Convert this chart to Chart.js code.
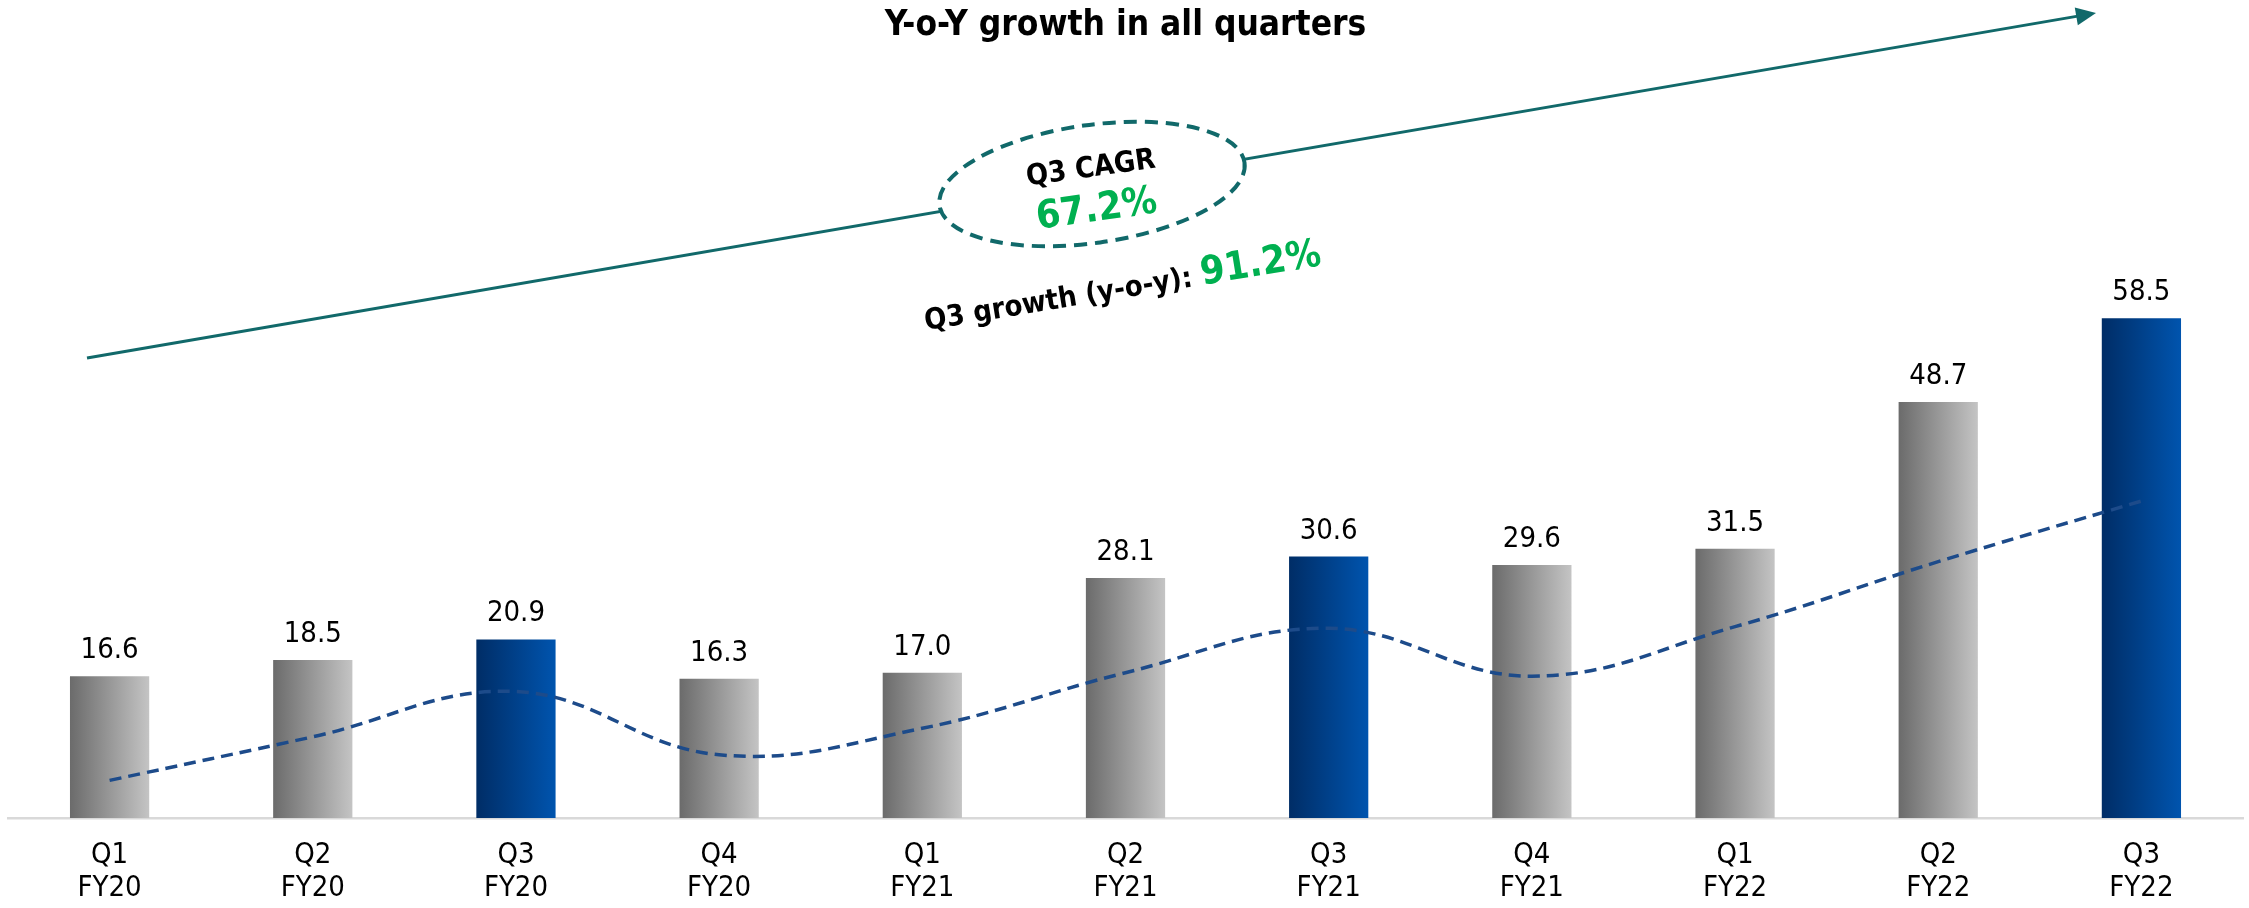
<!DOCTYPE html>
<html>
<head>
<meta charset="utf-8">
<title>Quarterly revenue</title>
<script src="https://cdn.jsdelivr.net/npm/chart.js@4.4.1/dist/chart.umd.min.js"></script>
<style>
  html, body { margin: 0; padding: 0; background: #fff; }
  .wrap { width: 2249px; height: 908px; position: relative; }
</style>
</head>
<body>
<div class="wrap"><canvas id="revenueChart"></canvas></div>
<script>
const quarters = ["Q1", "Q2", "Q3", "Q4", "Q1", "Q2", "Q3", "Q4", "Q1", "Q2", "Q3"];
const fiscalYears = ["FY20", "FY20", "FY20", "FY20", "FY21", "FY21", "FY21", "FY21", "FY22", "FY22", "FY22"];
const revenue = [16.6, 18.5, 20.9, 16.3, 17.0, 28.1, 30.6, 29.6, 31.5, 48.7, 58.5];
const trend = [4.4, 9.5, 14.8, 7.4, 10.5, 17.0, 22.2, 16.6, 22.4, 30.0, 37.1];
const highlightQuarter = "Q3";
const cagrValue = "67.2%";
const yoyValue = "91.2%";

const FONT = '"DejaVu Sans Condensed", "DejaVu Sans", sans-serif';
const BAR_PCT = 0.39;
const teal = "#11696a";
const green = "#00b050";

Chart.defaults.font.family = FONT;
Chart.defaults.color = "#000";

const labels = quarters.map((q, i) => [q, fiscalYears[i]]);

// left-to-right shading on every bar, blue for the Q3 columns
function barFill(context) {
  const chart = context.chart;
  const xScale = chart.scales.x;
  const blue = quarters[context.dataIndex] === highlightQuarter;
  if (!xScale || context.type !== "data") return blue ? "#004590" : "#999";
  const centre = xScale.getPixelForValue(context.dataIndex);
  const half = (xScale.width / labels.length) * BAR_PCT / 2;
  if (!Number.isFinite(centre) || !Number.isFinite(half)) return blue ? "#004590" : "#999";
  const g = chart.ctx.createLinearGradient(centre - half, 0, centre + half, 0);
  if (blue) {
    g.addColorStop(0, "#002d66");
    g.addColorStop(1, "#0054ae");
  } else {
    g.addColorStop(0, "#6b6b6b");
    g.addColorStop(1, "#c4c4c4");
  }
  return g;
}

const valueLabels = {
  id: "valueLabels",
  afterDatasetsDraw(chart) {
    const meta = chart.getDatasetMeta(1);
    const ctx = chart.ctx;
    ctx.save();
    ctx.font = "29px " + FONT;
    ctx.fillStyle = "#000";
    ctx.textAlign = "center";
    ctx.textBaseline = "alphabetic";
    meta.data.forEach((bar, i) => ctx.fillText(revenue[i].toFixed(1), bar.x, bar.y - 18));
    ctx.restore();
  }
};

// growth arrow with the CAGR bubble and y-o-y note
const callout = {
  id: "callout",
  afterDraw(chart) {
    const ctx = chart.ctx;
    const from = { x: 87, y: 358 };
    const to = { x: 2096, y: 13 };
    const ang = Math.atan2(to.y - from.y, to.x - from.x);

    ctx.save();
    ctx.strokeStyle = teal;
    ctx.fillStyle = teal;
    ctx.lineWidth = 3;
    ctx.beginPath();
    ctx.moveTo(from.x, from.y);
    ctx.lineTo(to.x - 14 * Math.cos(ang), to.y - 14 * Math.sin(ang));
    ctx.stroke();
    ctx.translate(to.x, to.y);
    ctx.rotate(ang);
    ctx.beginPath();
    ctx.moveTo(0, 0);
    ctx.lineTo(-20, -9);
    ctx.lineTo(-20, 9);
    ctx.closePath();
    ctx.fill();
    ctx.restore();

    ctx.save();
    ctx.translate(1092, 184);
    ctx.rotate(-8 * Math.PI / 180);
    ctx.beginPath();
    ctx.ellipse(0, 0, 154, 59, 0, 0, 2 * Math.PI);
    ctx.fillStyle = "#fff";
    ctx.fill();
    ctx.setLineDash([13, 8]);
    ctx.lineWidth = 4;
    ctx.strokeStyle = teal;
    ctx.stroke();
    ctx.setLineDash([]);
    ctx.textAlign = "center";
    ctx.textBaseline = "middle";
    ctx.fillStyle = "#000";
    ctx.font = "bold 29px " + FONT;
    ctx.fillText("Q3 CAGR", 1, -15);
    ctx.fillStyle = green;
    ctx.font = "bold 39px " + FONT;
    ctx.fillText(cagrValue, 1, 27);
    ctx.restore();

    ctx.save();
    ctx.translate(926, 330);
    ctx.rotate(-9.3 * Math.PI / 180);
    ctx.textAlign = "left";
    ctx.textBaseline = "alphabetic";
    ctx.font = "bold 29px " + FONT;
    ctx.fillStyle = "#000";
    const lead = "Q3 growth (y-o-y): ";
    ctx.fillText(lead, 0, 0);
    const w = ctx.measureText(lead).width;
    ctx.font = "bold 39px " + FONT;
    ctx.fillStyle = green;
    ctx.fillText(yoyValue, w, 0);
    ctx.restore();
  }
};

const ctx = document.querySelector("#revenueChart").getContext("2d");

const data = {
  labels,
  datasets: [
    {
      type: "line",
      data: trend,
      order: 0,
      borderColor: "#1d4b8a",
      borderWidth: 3.5,
      borderDash: [12, 7],
      tension: 0.4,
      pointRadius: 0,
      fill: false,
    },
    {
      type: "bar",
      data: revenue,
      order: 1,
      backgroundColor: barFill,
      borderWidth: 0,
      barPercentage: BAR_PCT,
      categoryPercentage: 1,
    },
  ],
};

const config = {
  data: data,
  options: {
    responsive: true,
    maintainAspectRatio: false,
    devicePixelRatio: 1,
    animation: false,
    layout: { padding: { left: 8, right: 6, top: 0, bottom: 0 } },
    plugins: {
      legend: { display: false },
      tooltip: { enabled: false },
      title: {
        display: true,
        text: "Y-o-Y growth in all quarters",
        color: "#000",
        font: { size: 35, weight: "bold", lineHeight: 1.2 },
        padding: { top: 5, bottom: 2 },
      },
    },
    scales: {
      x: {
        grid: { display: false, drawTicks: false },
        border: { display: true, color: "#d9d9d9", width: 2.5 },
        ticks: {
          color: "#000",
          padding: 21,
          font: { size: 29, lineHeight: 1.13 },
          maxRotation: 0,
          autoSkip: false,
        },
        // fixed band for the two-line quarter labels
        afterFit(scale) {
          scale.height = 90;
        },
      },
      y: {
        display: false,
        min: 0,
        max: 90,
      },
    },
  },
  plugins: [valueLabels, callout],
};

const revenueChart = new Chart(ctx, config);
</script>
</body>
</html>
